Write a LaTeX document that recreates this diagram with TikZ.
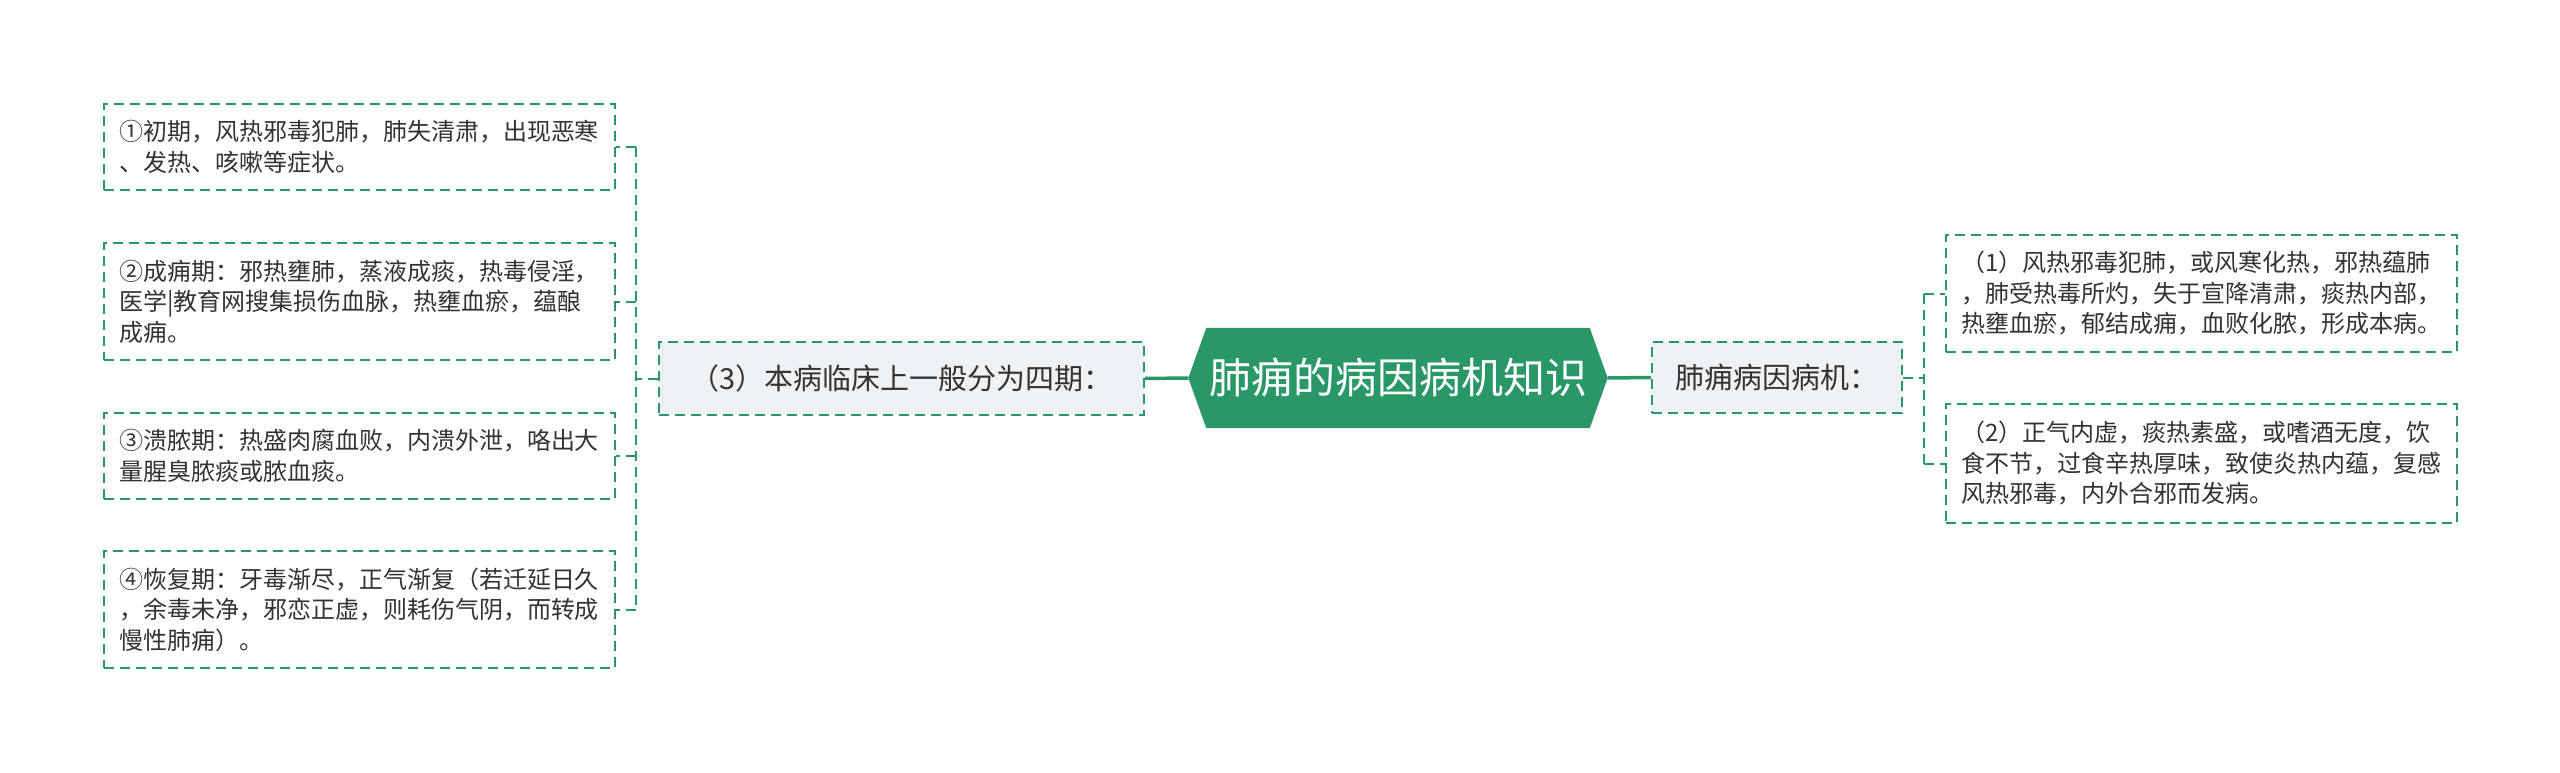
\documentclass[tikz,border=0pt]{standalone}
\usepackage{fontspec}
\setmainfont{Noto Sans CJK SC}
\usetikzlibrary{backgrounds}
\definecolor{mapgreen}{RGB}{41,152,102}
\definecolor{mapgray}{RGB}{239,242,245}
\definecolor{maptext}{RGB}{51,51,51}
\tikzset{
  leafbox/.style={draw=mapgreen, line width=2pt, dash pattern=on 10pt off 6pt, fill=white,
    text=maptext, text width=480pt, inner xsep=15.5pt, inner ysep=0pt, align=left,
    font=\fontsize{24}{30.5}\selectfont},
  midbox/.style={draw=mapgreen, line width=2pt, dash pattern=on 10pt off 6pt, fill=mapgray,
    text=maptext, inner sep=0pt, font=\fontsize{29}{34}\selectfont},
  rootbox/.style={text=white, inner sep=0pt, minimum width=383pt, minimum height=100pt,
    font=\fontsize{42}{48}\selectfont},
  trunk/.style={draw=mapgreen, line width=3.5pt},
  branch/.style={draw=mapgreen, line width=2pt, dash pattern=on 10pt off 6pt}
}
\begin{document}
\begin{tikzpicture}[x=1pt,y=-1pt]
                    \useasboundingbox (0,0) rectangle (2560,773);

                    % Drawing root
                    \node[rootbox] (root) at (1398,378) {肺痈的病因病机知识};
                    \begin{pgfonlayer}{background}
                    \fill[white] (0,0) rectangle (2560,773);
                    \fill[mapgreen] (root.north west) -- (root.north east) -- ([xshift=18pt]root.east) -- (root.south east) -- (root.south west) -- ([xshift=-18pt]root.west) -- cycle;
                    \end{pgfonlayer}

                    % Drawing the two branches
                    \node[midbox, minimum width=485pt, minimum height=73pt] (phase) at (901.5,378.5) {（3）本病临床上一般分为四期：};
                    \node[midbox, minimum width=250pt, minimum height=71pt] (cause) at (1777,377.5) {肺痈病因病机：};

                    % Drawing left leaves
                    \node[leafbox, minimum height=86pt] (stageA) at (359,147) {①初期，风热邪毒犯肺，肺失清肃，出现恶寒\\、发热、咳嗽等症状。};
                    \node[leafbox, minimum height=117pt] (stageB) at (359,301.5) {②成痈期：邪热壅肺，蒸液成痰，热毒侵淫，\\医学|教育网搜集损伤血脉，热壅血瘀，蕴酿\\成痈。};
                    \node[leafbox, minimum height=86pt] (stageC) at (359,456) {③溃脓期：热盛肉腐血败，内溃外泄，咯出大\\量腥臭脓痰或脓血痰。};
                    \node[leafbox, minimum height=117pt] (stageD) at (359,609.5) {④恢复期：牙毒渐尽，正气渐复（若迁延日久\\，余毒未净，邪恋正虚，则耗伤气阴，而转成\\慢性肺痈）。};

                    % Drawing right leaves
                    \node[leafbox, minimum height=117pt] (causeA) at (2201.5,293.5) {（1）风热邪毒犯肺，或风寒化热，邪热蕴肺\\，肺受热毒所灼，失于宣降清肃，痰热内部，\\热壅血瘀，郁结成痈，血败化脓，形成本病。};
                    \node[leafbox, minimum height=119pt] (causeB) at (2201.5,463.5) {（2）正气内虚，痰热素盛，或嗜酒无度，饮\\食不节，过食辛热厚味，致使炎热内蕴，复感\\风热邪毒，内外合邪而发病。};

                    % Drawing trunk lines
                    \draw[trunk] ([xshift=-18pt]root.west) -- (phase.east);
                    \draw[trunk] ([xshift=18pt]root.east) -- (cause.west);

                    % Drawing left bracket
                    \coordinate (lspine) at (636,378.5);
                    \draw[branch] (phase.west) -- (lspine);
                    \draw[branch] (lspine |- stageA.east) -- (lspine |- stageD.east);
                    \foreach \leaf in {stageA,stageB,stageC,stageD}
                      \draw[branch] (lspine |- \leaf.east) -- (\leaf.east);

                    % Drawing right bracket
                    \coordinate (rspine) at (1924,377.5);
                    \draw[branch] (cause.east) -- (rspine);
                    \draw[branch] (rspine |- causeA.west) -- (rspine |- causeB.west);
                    \foreach \leaf in {causeA,causeB}
                      \draw[branch] (rspine |- \leaf.west) -- (\leaf.west);
                \end{tikzpicture}
\end{document}
